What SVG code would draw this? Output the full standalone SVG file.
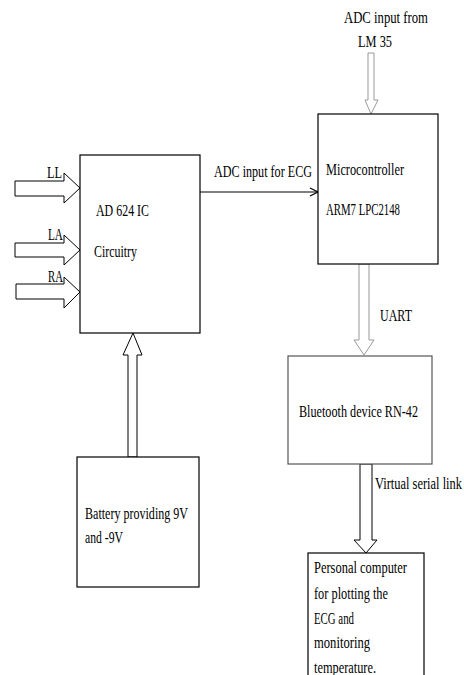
<svg xmlns="http://www.w3.org/2000/svg" width="464" height="675" viewBox="0 0 464 675">
<defs>
<style>
text{font-family:"Liberation Serif","Times New Roman",serif;font-size:17px;fill:#000}
.box{fill:#fff;stroke:#000;stroke-width:1.2}
.gbox{fill:#fff;stroke:#555;stroke-width:1.2}
.blk{fill:#fff;stroke:#000;stroke-width:1}
.gray{fill:#fff;stroke:#999;stroke-width:1}
.line{fill:none;stroke:#000;stroke-width:1.2}
</style>
<marker id="chev" markerWidth="10" markerHeight="10" refX="9" refY="5" orient="auto" markerUnits="userSpaceOnUse">
<path d="M1,1 L9,5 L1,9" fill="none" stroke="#000" stroke-width="1.2"/>
</marker>
</defs>
<rect width="464" height="675" fill="#fff"/>
<g id="connectors">
<polygon class="blk" points="15,181 64,181 64,173 80,188 64,203 64,196 15,196"/>
<polygon class="blk" points="15,243 64,243 64,235 80,250 64,265 64,257 15,257"/>
<polygon class="blk" points="16,284 64,284 64,277 80,292 64,308 64,299 16,299"/>
<polygon class="blk" points="128,457 128,355 123,355 133,333 142,355 137,355 137,457"/>
<polygon class="gray" points="368,53 374,53 374,100 378,100 371,114 365,100 368,100"/>
<polygon class="gray" points="359,264 369,264 369,340 374,340 364,355 354,340 359,340"/>
<polygon class="blk" points="360,464 372,464 372,540 377,540 366,553 354,540 360,540"/>
<line class="line" x1="200" y1="192" x2="318" y2="192" marker-end="url(#chev)"/>
<text x="47" y="178" textLength="15" lengthAdjust="spacingAndGlyphs">LL</text>
<text x="48" y="240" textLength="15" lengthAdjust="spacingAndGlyphs">LA</text>
<text x="48" y="282" textLength="15" lengthAdjust="spacingAndGlyphs">RA</text>
<text x="214" y="177" textLength="98" lengthAdjust="spacingAndGlyphs">ADC input for ECG</text>
<text x="344" y="23" textLength="84" lengthAdjust="spacingAndGlyphs">ADC input from</text>
<text x="358" y="47" textLength="34" lengthAdjust="spacingAndGlyphs">LM 35</text>
<text x="380" y="321" textLength="32" lengthAdjust="spacingAndGlyphs">UART</text>
<text x="375" y="489" textLength="87" lengthAdjust="spacingAndGlyphs">Virtual serial link</text>
</g>
<g id="ad624">
<rect class="box" x="80" y="155" width="120" height="178"/>
<text x="96" y="216" textLength="53" lengthAdjust="spacingAndGlyphs">AD 624 IC</text>
<text x="94" y="257" textLength="43" lengthAdjust="spacingAndGlyphs">Circuitry</text>
</g>
<g id="micro">
<rect class="box" x="318" y="114" width="120" height="150"/>
<text x="326" y="175" textLength="78" lengthAdjust="spacingAndGlyphs">Microcontroller</text>
<text x="326" y="215" textLength="74" lengthAdjust="spacingAndGlyphs">ARM7 LPC2148</text>
</g>
<g id="bluetooth">
<rect class="gbox" x="288" y="356" width="144" height="108"/>
<text x="299" y="417" textLength="119" lengthAdjust="spacingAndGlyphs">Bluetooth device RN-42</text>
</g>
<g id="battery">
<rect class="box" x="77" y="457" width="122" height="130"/>
<text x="85" y="519" textLength="103" lengthAdjust="spacingAndGlyphs">Battery providing 9V</text>
<text x="85" y="543" textLength="38" lengthAdjust="spacingAndGlyphs">and -9V</text>
</g>
<g id="pc">
<rect class="box" x="308" y="553" width="116" height="160"/>
<text x="314" y="573" textLength="93" lengthAdjust="spacingAndGlyphs">Personal computer</text>
<text x="314" y="599" textLength="74" lengthAdjust="spacingAndGlyphs">for plotting the</text>
<text x="314" y="624" textLength="40" lengthAdjust="spacingAndGlyphs">ECG and</text>
<text x="314" y="648" textLength="56" lengthAdjust="spacingAndGlyphs">monitoring</text>
<text x="314" y="673" textLength="62" lengthAdjust="spacingAndGlyphs">temperature.</text>
</g>
</svg>
